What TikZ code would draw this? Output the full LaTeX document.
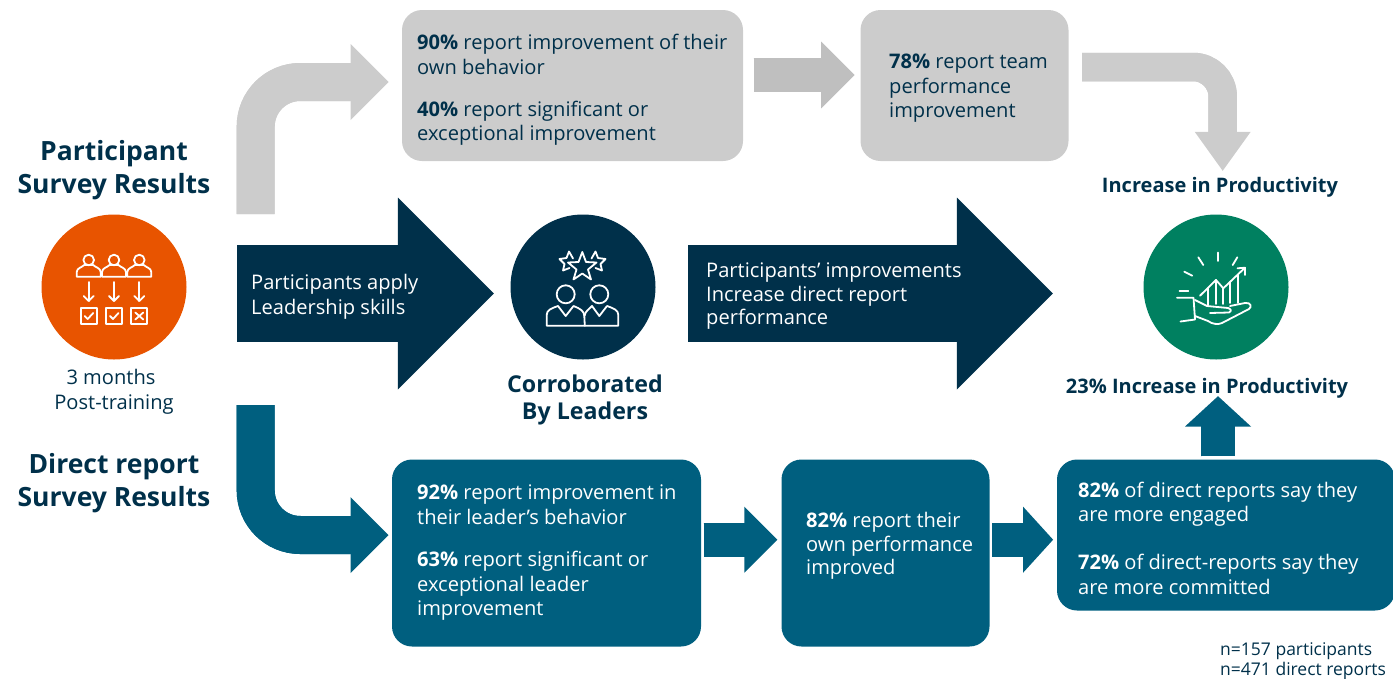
\documentclass[tikz,border=0pt]{standalone}
\usepackage{fontspec}
\setmainfont{Open Sans}
\usetikzlibrary{arrows.meta}

\definecolor{navy}{HTML}{00304A}
\definecolor{deepteal}{HTML}{005F7F}
\definecolor{lightgrey}{HTML}{CCCCCC}
\definecolor{midgrey}{HTML}{BFBFBF}
\definecolor{burnt}{HTML}{E85400}
\definecolor{leaf}{HTML}{008060}

\tikzset{
	panel/.style = {rectangle, rounded corners = 20, inner sep = 0},
	greypanel/.style = {panel, fill = lightgrey},
	tealpanel/.style = {panel, fill = deepteal},
	disc/.style = {circle, minimum size = 145, inner sep = 0},
	body/.style = {anchor = west, align = left, inner sep = 0, font = \fontsize{20.1}{24.5}\selectfont},
	heading/.style = {align = center, inner sep = 0, text = navy, font = \bfseries\fontsize{26.5}{33}\selectfont},
	caption/.style = {align = center, inner sep = 0, text = navy, font = \bfseries\fontsize{20}{24}\selectfont},
	glyph/.style = {white, line width = 1.8, line cap = round, line join = round},
	flow/.style n args = {3}{line width = #1, postaction = {draw, arrows = -, shorten > = {#2 - 3}}, -{Triangle[length = #2, width = #3, line width = 0pt]}}
}

\begin{document}
\begin{tikzpicture}[x = 1pt, y = -1pt]

	\useasboundingbox (0, 0) rectangle (1393, 678);

	% Upper row of panels

	\node [greypanel, minimum width = 341, minimum height = 151] (ownPanel) at (572.5, 85.5) {};
	\node [greypanel, minimum width = 208, minimum height = 151] (teamPanel) at (964.5, 85.5) {};

	\node [body, text = navy] (ownText) at (417, 90) {\textbf{90\%} report improvement of their\\own behavior\\[17.5pt]\textbf{40\%} report significant or\\exceptional improvement};
	\node [body, text = navy] (teamText) at (889, 88.5) {\textbf{78\%} report team\\performance\\improvement};

	% Lower row of panels

	\node [tealpanel, minimum width = 309, minimum height = 187] (leaderPanel) at (546.5, 553) {};
	\node [tealpanel, minimum width = 208, minimum height = 187] (selfPanel) at (885.5, 553) {};
	\node [tealpanel, minimum width = 338, minimum height = 151] (engagedPanel) at (1226, 535) {};

	\node [body, text = white] (leaderText) at (417, 553) {\textbf{92\%} report improvement in\\their leader’s behavior\\[18pt]\textbf{63\%} report significant or\\exceptional leader\\improvement};
	\node [body, text = white] (selfText) at (806, 545.5) {\textbf{82\%} report their\\own performance\\[-2pt]improved};
	\node [body, text = white] (engagedText) at (1078, 538) {\textbf{82\%} of direct reports say they\\are more engaged\\[23.5pt]\textbf{72\%} of direct-reports say they\\are more committed};

	% Discs

	\node [disc, fill = burnt] (surveyDisc) at (114, 287) {};
	\node [disc, fill = navy] (leaderDisc) at (583, 287) {};
	\node [disc, fill = leaf] (growthDisc) at (1216, 287) {};

	% Headings and captions

	\node [heading] (participantTitle) at (114, 170) {Participant\\Survey Results};
	\node [heading] (directTitle) at (114, 483) {Direct report\\Survey Results};
	\node [body, anchor = center, align = center, text = navy] (monthsText) at (114, 392) {3 months\hspace*{6pt}\\Post-training};
	\node [caption, font = \bfseries\fontsize{23.2}{27}\selectfont] (leaderTitle) at (585, 400) {Corroborated\\By Leaders};
	\node [caption] (increaseTitle) at (1220, 187) {Increase in Productivity};
	\node [caption] (gainTitle) at (1207, 388) {23\% Increase in Productivity};
	\node [anchor = west, align = left, inner sep = 0, text = navy, font = \fontsize{17.5}{20.5}\selectfont] (sampleText) at (1220, 661) {n=157 participants\\n=471 direct reports};

	% Free ends of the bent arrows

	\coordinate (greyStart) at (255.7, 214);
	\coordinate (tealStart) at (255.7, 405);
	\coordinate (topStart) at (1082, 67);

	% Bent arrows

	\draw [flow = {38}{38}{76}, lightgrey, rounded corners = 44.5] (greyStart) |- ([xshift = -13.3, yshift = 3.5] ownPanel.west);
	\draw [flow = {38}{38}{76}, deepteal, rounded corners = 44.5] (tealStart) |- ([xshift = -3.3, yshift = 18] leaderPanel.west);
	\draw [flow = {28.5}{39}{56}, lightgrey, rounded corners = 29.5] (topStart) -| ([xshift = 2.7, yshift = 6] increaseTitle.north);

	% Straight arrows

	\draw [flow = {33.4}{33.4}{66.6}, midgrey] ([xshift = 10.3, yshift = 10.5] ownPanel.east) -- ([xshift = -5.7, yshift = 10.5] teamPanel.west);
	\draw [flow = {34}{33}{66}, deepteal] ([xshift = 2.3, yshift = 13.3] leaderPanel.east) -- ([xshift = -4, yshift = 13.3] selfPanel.west);
	\draw [flow = {34}{30}{66}, deepteal] ([xshift = 2.7, yshift = 13.3] selfPanel.east) -- ([xshift = -3.7, yshift = -4.7] engagedPanel.west);
	\draw [flow = {33.4}{30.3}{66}, deepteal] ([xshift = -8, yshift = 3] engagedPanel.north) -- ([xshift = 11, yshift = 2] gainTitle.south);

	% Large dark arrows

	\draw [flow = {97}{96}{192}, navy] (237, 293.5) -- ([xshift = -16.5, yshift = -6.5] leaderDisc.west);
	\draw [flow = {97}{96}{192}, navy] (688, 293.5) -- ([xshift = -90.5, yshift = -6.5] growthDisc.west);

	\node [body, text = white] (applyText) at (251, 297) {Participants apply\\Leadership skills};
	\node [body, text = white] (improveText) at (706, 296) {Participants’ improvements\\Increase direct report\\[-2pt]performance};

	% Survey icon: people, arrows and tick boxes

	\foreach \px in {88.7, 114, 139.3} {
		\draw [glyph] (\px, 260) circle (5.3);
		\draw [glyph] (\px - 12, 276.7) -- (\px + 12, 276.7) -- (\px + 12, 272) .. controls (\px + 12, 268) and (\px + 6, 267) .. (\px + 4.5, 265) -- (\px - 4.5, 265) .. controls (\px - 6, 267) and (\px - 12, 268) .. (\px - 12, 272) -- cycle;
		\draw [glyph] (\px, 282) -- (\px, 301);
		\draw [glyph] (\px - 5, 296) -- (\px, 301) -- (\px + 5, 296);
		\draw [glyph] (\px - 8, 308) rectangle (\px + 8, 324);
	}
	\foreach \px in {88.7, 114} {
		\draw [glyph] (\px - 4, 316) -- (\px - 1, 319) -- (\px + 4.5, 313);
	}
	\draw [glyph] (135.3, 312.5) -- (143.3, 319.5);
	\draw [glyph] (143.3, 312.5) -- (135.3, 319.5);

	% Leaders icon: stars and two people

	\draw [glyph] (582.3, 252) -- (586, 262) -- (596.5, 262.5) -- (588, 269.5) -- (591, 279.5) -- (582.3, 273.5) -- (573.5, 279.5) -- (576.5, 269.5) -- (568, 262.5) -- (578.5, 262) -- cycle;
	\draw [glyph] (573, 258.5) -- (569, 251.5) -- (566.5, 258) -- (559.5, 259) -- (564.5, 264) -- (563, 270.5) -- (569.5, 268);
	\draw [glyph] (591.5, 258.5) -- (595.5, 251.5) -- (598, 258) -- (605.5, 259) -- (600.5, 264) -- (602, 270.5) -- (595.5, 268);
	\foreach \px in {565.7, 599.3} {
		\draw [glyph] (\px, 294.3) circle (9);
	}
	\draw [glyph] (546.7, 325.7) -- (546.7, 315) .. controls (546.7, 310) and (551, 308.5) .. (558, 306) -- (565.7, 316) -- (573.5, 306) .. controls (580, 308.5) and (584.3, 311) .. (584.3, 316) -- (584.8, 325.7) -- cycle;
	\draw [glyph] (584.5, 316) .. controls (585, 311) and (590, 308.5) .. (592, 306) -- (599.3, 316) -- (607, 306) .. controls (614, 308.5) and (618.3, 310) .. (618.3, 315) -- (618.3, 325.7) -- (584.8, 325.7);

	% Growth icon: rays, chart and open hand

	\draw [glyph] (1217.7, 252.5) -- (1217.7, 261);
	\draw [glyph] (1198.3, 257.3) -- (1203.3, 265);
	\draw [glyph] (1237.3, 257.3) -- (1232.7, 265);
	\draw [glyph] (1184.3, 271.7) -- (1192.3, 275.7);
	\draw [glyph] (1179.5, 290.7) -- (1188.3, 290.7);
	\draw [glyph] (1200, 295.7) -- (1216, 280) -- (1223.3, 288.3) -- (1245, 267.7);
	\draw [glyph] (1237.5, 268.3) -- (1245, 267.7) -- (1245, 275);
	\draw [glyph] (1208.3, 288) -- (1208.3, 305);
	\draw [glyph] (1216, 280) -- (1216, 304);
	\draw [glyph] (1223, 288.3) -- (1223, 304);
	\draw [glyph] (1230, 282) -- (1230, 303);
	\draw [glyph] (1238.3, 275) -- (1238.3, 303);
	\draw [glyph] (1177, 297.7) -- (1193.5, 297.7) -- (1195, 319.5) -- (1180.5, 321.5);
	\draw [glyph] (1195, 300) -- (1207, 306) -- (1228, 308) .. controls (1231, 309) and (1232, 311) .. (1229, 312.5) -- (1210, 313);
	\draw [glyph] (1230, 306) -- (1245, 303) .. controls (1251, 302) and (1252, 307) .. (1249, 309) -- (1222, 323) .. controls (1218, 325) and (1212, 324) .. (1208, 321) -- (1195, 316);

\end{tikzpicture}
\end{document}
